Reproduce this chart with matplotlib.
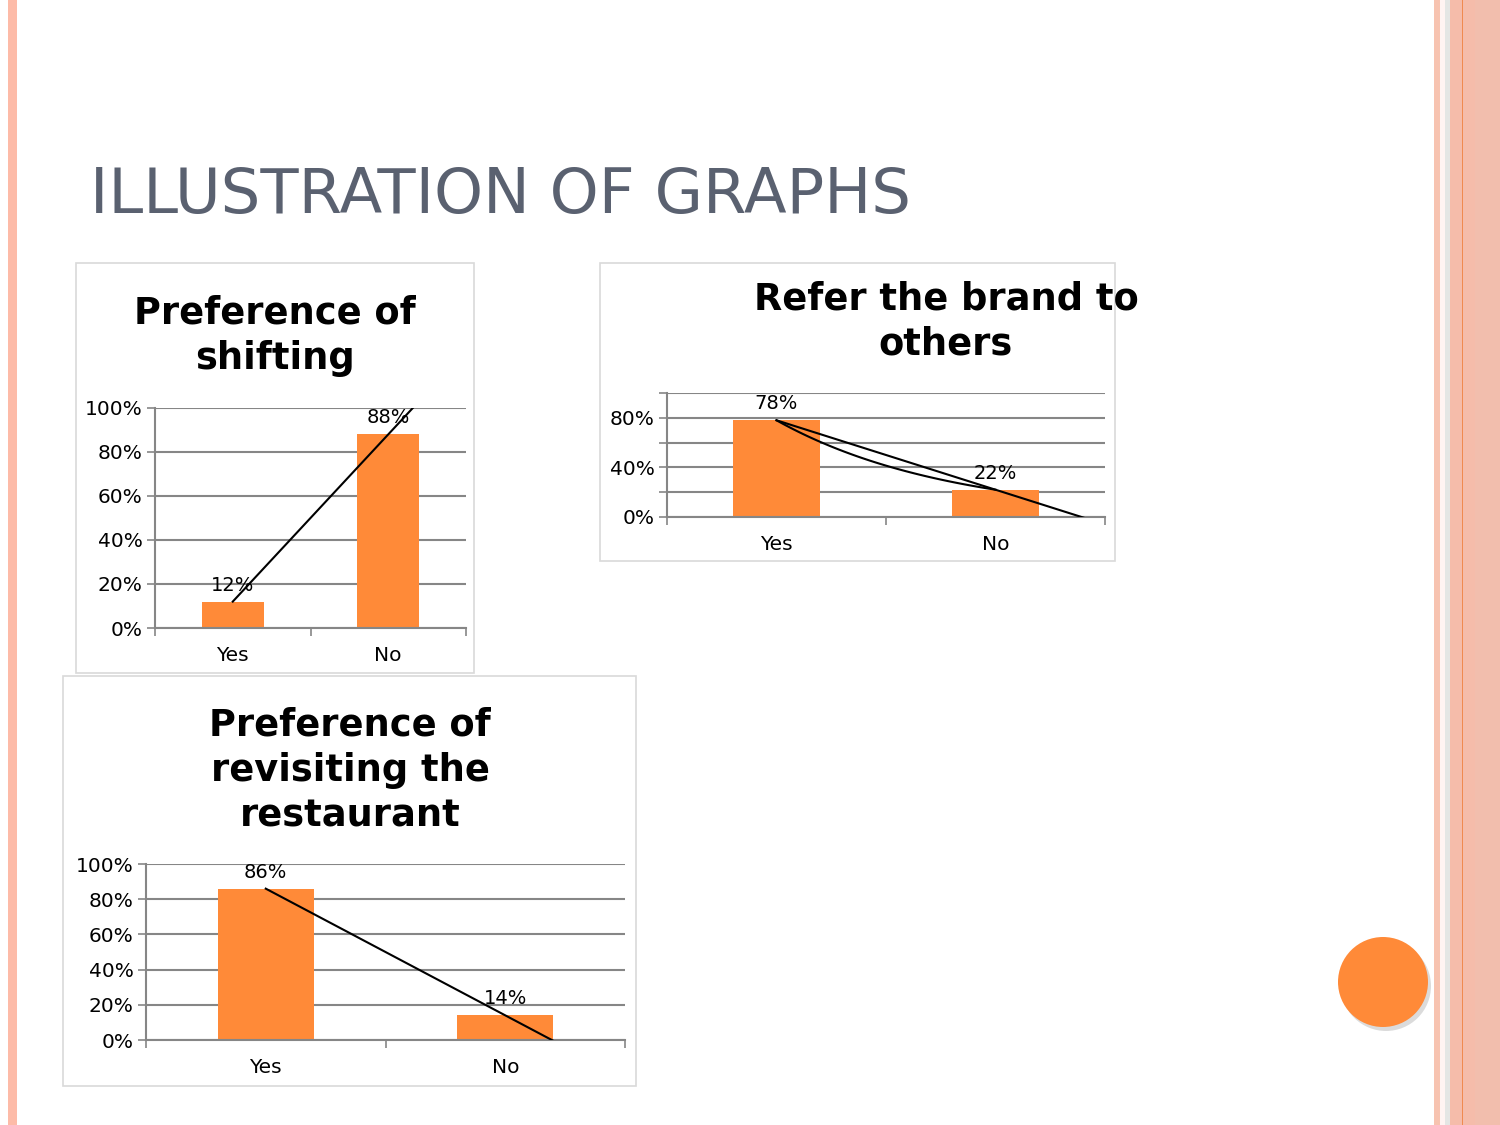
import matplotlib.pyplot as plt
import matplotlib.patches as patches
import numpy as np

# chart data
categories = ['Yes', 'No']
shifting = [12, 88]
refer = [78, 22]
revisit = [86, 14]

title_shift = 'Preference of\nshifting'
title_refer = 'Refer the brand to\nothers'
title_revisit = 'Preference of\nrevisiting the\nrestaurant'

W, H = 1500, 1125
orange = '#FF8A38'
grid_col = '#868686'

fig = plt.figure(figsize=(15, 11.25), dpi=100)

# background layer in pixel coordinates
bg = fig.add_axes([0, 0, 1, 1], zorder=0)
bg.set_xlim(0, W)
bg.set_ylim(H, 0)
bg.axis('off')

# left stripe
bg.add_patch(patches.Rectangle((8, 0), 9, H, color='#FDBBA8', lw=0))
# right border stripes
bg.add_patch(patches.Rectangle((1434, 0), 66, H, color='#F5BCAA', lw=0))
bg.add_patch(patches.Rectangle((1434, 0), 6, H, color='#F7C3B0', lw=0))
bg.add_patch(patches.Rectangle((1440, 0), 5, H, color='#FFF4F2', lw=0))
bg.add_patch(patches.Rectangle((1445, 0), 5, H, color='#E4E6E4', lw=0))
bg.add_patch(patches.Rectangle((1461.5, 0), 1.5, H, color='#F08A50', lw=0))
bg.add_patch(patches.Rectangle((1475, 0), 25, H, color='#F2BEAD', lw=0))

# orange circle with soft shadow
bg.add_patch(patches.Circle((1386, 986), 45, color='#999999', alpha=0.35, lw=0))
bg.add_patch(patches.Circle((1383, 982), 45, color=orange, lw=0))

bg.text(90, 213, 'ILLUSTRATION OF GRAPHS', fontsize=45, color='#5A6170',
        ha='left', va='baseline')


def px_rect(x0, y0, x1, y1):
    return [x0 / W, 1 - y1 / H, (x1 - x0) / W, (y1 - y0) / H]


def chart(box, plot, title, title_xy, values, ylabels, exp_trend=False):
    bx0, by0, bx1, by1 = box
    bg.add_patch(patches.Rectangle((bx0, by0), bx1 - bx0, by1 - by0,
                                   fill=False, ec='#D9D9D9', lw=1.2))
    bg.text(title_xy[0], title_xy[1], title, fontsize=26.5, fontweight='bold',
            ha='center', va='top', linespacing=1.3)

    ax = fig.add_axes(px_rect(*plot), zorder=2)
    ax.patch.set_alpha(0)
    x = np.arange(len(categories))
    bars = ax.bar(x, values, width=0.4, color=orange, zorder=2)
    ax.bar_label(bars, labels=[f'{v}%' for v in values], padding=5,
                 fontsize=14, zorder=4)

    # linear trend, forecast forward and clipped by the axes
    k, b = np.polyfit(x, values, 1)
    tx = np.array([0, 1.5])
    ax.plot(tx, k * tx + b, color='black', lw=1.5, zorder=3)
    if exp_trend:
        ek, eb = np.polyfit(x, np.log(values), 1)
        ex = np.linspace(0, 1, 50)
        ax.plot(ex, np.exp(eb + ek * ex), color='black', lw=1.5, zorder=3)

    ax.set_xlim(-0.5, 1.5)
    ax.set_ylim(0, 100)
    ticks = list(range(0, 101, 20))
    ax.set_yticks(ticks)
    ax.set_yticklabels([f'{t}%' if t in ylabels else '' for t in ticks])
    ax.yaxis.grid(True, color=grid_col, lw=1.5, zorder=0)
    ax.set_xticks(x)
    ax.set_xticklabels(categories)
    ax.set_xticks([-0.5, 0.5, 1.5], minor=True)
    ax.tick_params(axis='x', which='major', length=0, pad=13, labelsize=14.5)
    ax.tick_params(axis='x', which='minor', length=6, width=1.2, color=grid_col)
    ax.tick_params(axis='y', length=6, width=1.2, color=grid_col, pad=3,
                   labelsize=14.5)
    for s in ['top', 'right']:
        ax.spines[s].set_visible(False)
    for s in ['left', 'bottom']:
        ax.spines[s].set_color(grid_col)
        ax.spines[s].set_linewidth(1.5)
    ax.set_axisbelow(True)
    return ax


chart((76, 263, 474, 673), (155, 408, 466, 628), title_shift, (275, 294),
      shifting, [0, 20, 40, 60, 80, 100])
chart((600, 263, 1115, 561), (667, 393, 1105, 517), title_refer, (946, 280),
      refer, [0, 40, 80], exp_trend=True)
chart((63, 676, 636, 1086), (146, 864, 625, 1040), title_revisit, (350, 706),
      revisit, [0, 20, 40, 60, 80, 100])

fig.savefig('out.png', dpi=100)
